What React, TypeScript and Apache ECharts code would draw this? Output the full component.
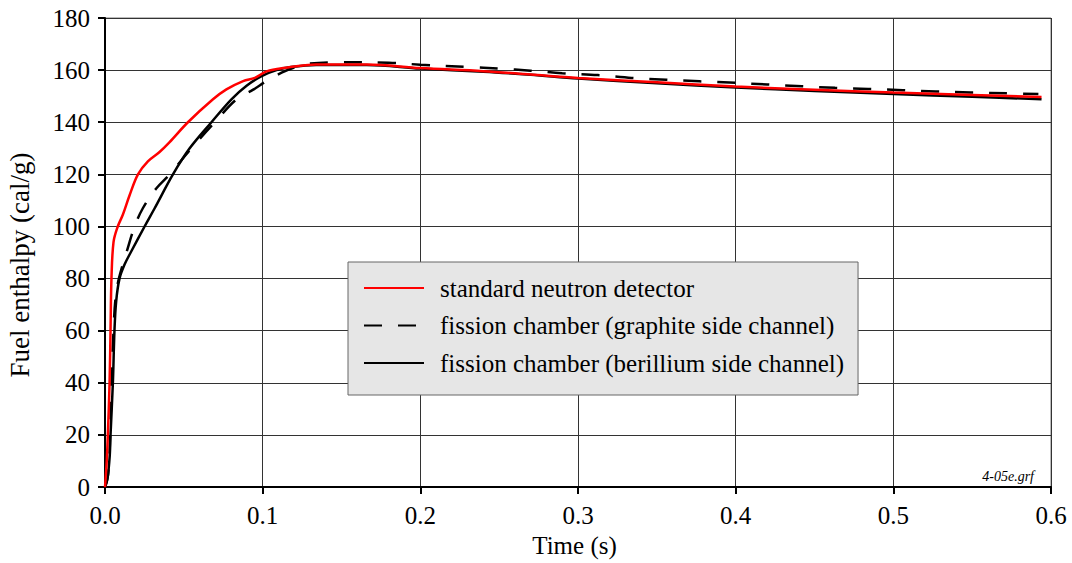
import React, { useEffect, useRef } from "react";
import * as echarts from "echarts";

const seriesNames = [
  "standard neutron detector",
  "fission chamber (graphite side channel)",
  "fission chamber (berillium side channel)",
];

const standardDetector: [number, number][] = [
  [0, 0], [0.0011, 10], [0.0018, 20], [0.0029, 40], [0.0035, 60], [0.0041, 80],
  [0.0054, 94], [0.0081, 100], [0.0113, 104.5], [0.0156, 112], [0.0209, 120],
  [0.0272, 125], [0.0346, 128.6], [0.041, 132.4], [0.0526, 140], [0.0685, 148.8],
  [0.077, 152.6], [0.0876, 155.8], [0.095, 157], [0.1025, 159.5], [0.113, 160.8],
  [0.134, 162.2], [0.166, 162.2], [0.2, 160.8], [0.24, 159.6], [0.27, 158.3],
  [0.3, 157], [0.35, 155.3], [0.4, 153.7], [0.45, 152.5], [0.5, 151.4],
  [0.55, 150.5], [0.594, 149.7],
];

const graphiteChannel: [number, number][] = [
  [0, 0], [0.002, 5], [0.0033, 20], [0.0041, 40], [0.0054, 60], [0.0067, 72.6],
  [0.0088, 80], [0.0145, 91.8], [0.0188, 100], [0.024, 107], [0.0325, 114.6],
  [0.041, 120], [0.0548, 130], [0.0696, 140], [0.0834, 148.8], [0.094, 152.5],
  [0.103, 156], [0.112, 159], [0.12, 161], [0.13, 162.5], [0.15, 163],
  [0.18, 162.8], [0.2, 162.1], [0.23, 161.2], [0.25, 160.6], [0.27, 159.8],
  [0.29, 158.8], [0.3125, 158.1], [0.334, 157], [0.356, 156.3], [0.377, 155.7],
  [0.4, 155.1], [0.42, 154.5], [0.442, 153.8], [0.463, 153.2], [0.484, 152.8],
  [0.506, 152.3], [0.527, 151.8], [0.549, 151.4], [0.574, 151.1], [0.592, 150.8],
];

const berilliumChannel: [number, number][] = [
  [0, 0], [0.0015, 3], [0.003, 12], [0.0035, 20], [0.005, 40], [0.006, 60],
  [0.0071, 71.4], [0.0092, 80], [0.0124, 85.4], [0.0167, 90.5], [0.0251, 100],
  [0.0315, 107], [0.0431, 120], [0.0537, 130], [0.0675, 140], [0.0802, 148.8],
  [0.0898, 154], [0.0993, 157.7], [0.1088, 160], [0.118, 161.2], [0.134, 162],
  [0.166, 162], [0.2, 160.6], [0.24, 159.4], [0.27, 158.2], [0.3, 156.8],
  [0.35, 155], [0.4, 153.3], [0.45, 152], [0.5, 150.8], [0.55, 149.8],
  [0.594, 148.8],
];

const xTicks = { min: 0, max: 0.6, interval: 0.1 };
const yTicks = { min: 0, max: 180, interval: 20 };
const yAxisTitle = "Fuel enthalpy (cal/g)";
const xAxisTitle = "Time (s)";
const fileTag = "4-05e.grf";

const FONT = "Liberation Serif";

export default function App() {
  const ref = useRef<HTMLDivElement>(null);
  useEffect(() => {
    if (!ref.current) return;
    const chart = echarts.init(ref.current, undefined, { renderer: "svg" });
    chart.setOption({
      animation: false,
      backgroundColor: "#ffffff",
      textStyle: { fontFamily: FONT, color: "#000" },
      grid: {
        left: 105,
        right: 21,
        top: 18,
        bottom: 72,
        show: true,
        borderColor: "#777",
        borderWidth: 1,
      },
      legend: {
        orient: "vertical",
        left: 348,
        top: 262,
        padding: [13, 14, 19, 15],
        backgroundColor: "#e6e6e6",
        borderColor: "#666",
        borderWidth: 1,
        itemWidth: 60,
        itemHeight: 14,
        itemGap: 11.5,
        itemStyle: { opacity: 0 },
        data: seriesNames,
        textStyle: {
          fontFamily: FONT,
          fontSize: 25,
          color: "#000",
          lineHeight: 26,
          padding: [0, 0, 0, 11],
        },
      },
      xAxis: {
        type: "value",
        min: xTicks.min,
        max: xTicks.max,
        interval: xTicks.interval,
        name: xAxisTitle,
        nameLocation: "middle",
        nameGap: 44,
        nameTextStyle: { fontFamily: FONT, fontSize: 25, color: "#000", padding: [0, 7, 0, 0] },
        axisLine: { show: true, lineStyle: { color: "#000", width: 2 } },
        axisTick: { show: true, inside: false, length: 7, lineStyle: { color: "#000", width: 2 } },
        axisLabel: {
          margin: 16,
          fontFamily: FONT,
          fontSize: 25,
          color: "#000",
          formatter: (v: number) => v.toFixed(1),
        },
        splitLine: { show: true, lineStyle: { color: "#333", width: 1 } },
      },
      yAxis: {
        type: "value",
        min: yTicks.min,
        max: yTicks.max,
        interval: yTicks.interval,
        axisLine: { show: true, lineStyle: { color: "#000", width: 2 } },
        axisTick: { show: true, inside: false, length: 7, lineStyle: { color: "#000", width: 2 } },
        axisLabel: { margin: 15, fontFamily: FONT, fontSize: 25, color: "#000" },
        splitLine: { show: true, lineStyle: { color: "#333", width: 1 } },
      },
      series: [
        {
          name: seriesNames[1],
          type: "line",
          data: graphiteChannel,
          symbol: "none",
          smooth: 0.35,
          z: 3,
          lineStyle: { color: "#000", width: 2.5, type: [18, 16] },
          itemStyle: { color: "#000" },
        },
        {
          name: seriesNames[2],
          type: "line",
          data: berilliumChannel,
          symbol: "none",
          smooth: 0.35,
          z: 3,
          lineStyle: { color: "#000", width: 2.5 },
          itemStyle: { color: "#000" },
        },
        {
          name: seriesNames[0],
          type: "line",
          data: standardDetector,
          symbol: "none",
          smooth: 0.35,
          z: 4,
          lineStyle: { color: "#ff0000", width: 2.5 },
          itemStyle: { color: "#ff0000" },
        },
      ],
      graphic: [
        {
          type: "text",
          x: 20,
          y: 265,
          rotation: Math.PI / 2,
          style: {
            text: yAxisTitle,
            font: `27px "Liberation Serif"`,
            fill: "#000",
            align: "center",
            verticalAlign: "middle",
          },
        },
        {
          type: "text",
          right: 38,
          top: 469,
          style: {
            text: fileTag,
            font: `italic 14px "Liberation Serif"`,
            fill: "#000",
          },
        },
      ],
    });
    return () => chart.dispose();
  }, []);
  return (
    <div
      ref={ref}
      style={{ position: "fixed", left: 0, top: 0, width: 1072, height: 563 }}
    />
  );
}
